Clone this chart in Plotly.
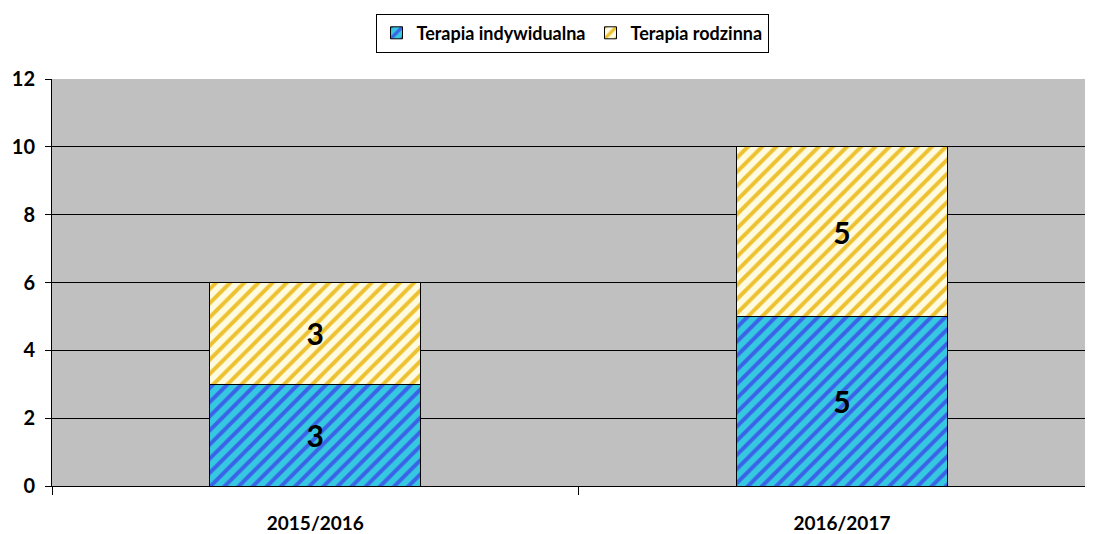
import plotly.graph_objects as go

categories = ["2015/2016", "2016/2017"]
indywidualna = [3, 5]
rodzinna = [3, 5]
y_ticks = [0, 2, 4, 6, 8, 10, 12]

font_family = "Lato, 'Open Sans', Arial, sans-serif"

fig = go.Figure()
fig.add_trace(go.Bar(
    x=categories, y=indywidualna, name="<b>Terapia indywidualna</b>",
    text=[f"<b>{v}</b>" for v in indywidualna], textposition="inside", insidetextanchor="middle",
    textfont=dict(size=30, color="black", family=font_family),
    width=0.4,
    marker=dict(color="#36C8E0",
                line=dict(color="black", width=1),
                pattern=dict(shape="/", fgcolor="#3A63E8", bgcolor="#36C8E0", size=10, solidity=0.4, fillmode="replace")),
))
fig.add_trace(go.Bar(
    x=categories, y=rodzinna, name="<b>Terapia rodzinna</b>",
    text=[f"<b>{v}</b>" for v in rodzinna], textposition="inside", insidetextanchor="middle",
    textfont=dict(size=30, color="black", family=font_family),
    width=0.4,
    marker=dict(color="#FFFBE0",
                line=dict(color="black", width=1),
                pattern=dict(shape="/", fgcolor="#EDC130", bgcolor="#FFFBE0", size=10, solidity=0.4, fillmode="replace")),
))

# page body has an 8px margin, so figure coords = viewport coords - 8
fig.update_layout(
    barmode="stack",
    width=1093, height=534,
    margin=dict(l=44, r=0, t=71, b=56, autoexpand=False),
    paper_bgcolor="white",
    plot_bgcolor="#C0C0C0",
    font=dict(family=font_family, size=18, color="black"),
    showlegend=True,
    legend=dict(orientation="h", x=(572 - 52) / (1101 - 52), xanchor="center", y=0.953, yanchor="middle",
                yref="container", bordercolor="black", borderwidth=1,
                font=dict(size=18, family=font_family, color="black"),
                bgcolor="white", traceorder="normal", itemwidth=30, tracegroupgap=0),
    uniformtext=dict(minsize=20, mode="show"),
)
fig.update_xaxes(
    type="category", range=[-0.5, 1.492],
    showline=True, linecolor="black", linewidth=1,
    ticks="outside", tickson="boundaries", ticklen=8, tickcolor="black",
    tickfont=dict(size=19, family=font_family, weight="bold"),
    ticklabelstandoff=20,
    showgrid=False, automargin=False,
)
fig.update_yaxes(
    range=[0, 12], tickvals=y_ticks,
    showline=True, linecolor="black", linewidth=1,
    ticks="outside", ticklen=6, tickcolor="black",
    showgrid=True, gridcolor="black", gridwidth=1,
    tickfont=dict(size=20, family=font_family, weight="bold"),
    ticklabelstandoff=6,
    zeroline=False, automargin=False,
)

fig.write_html("out.html")
